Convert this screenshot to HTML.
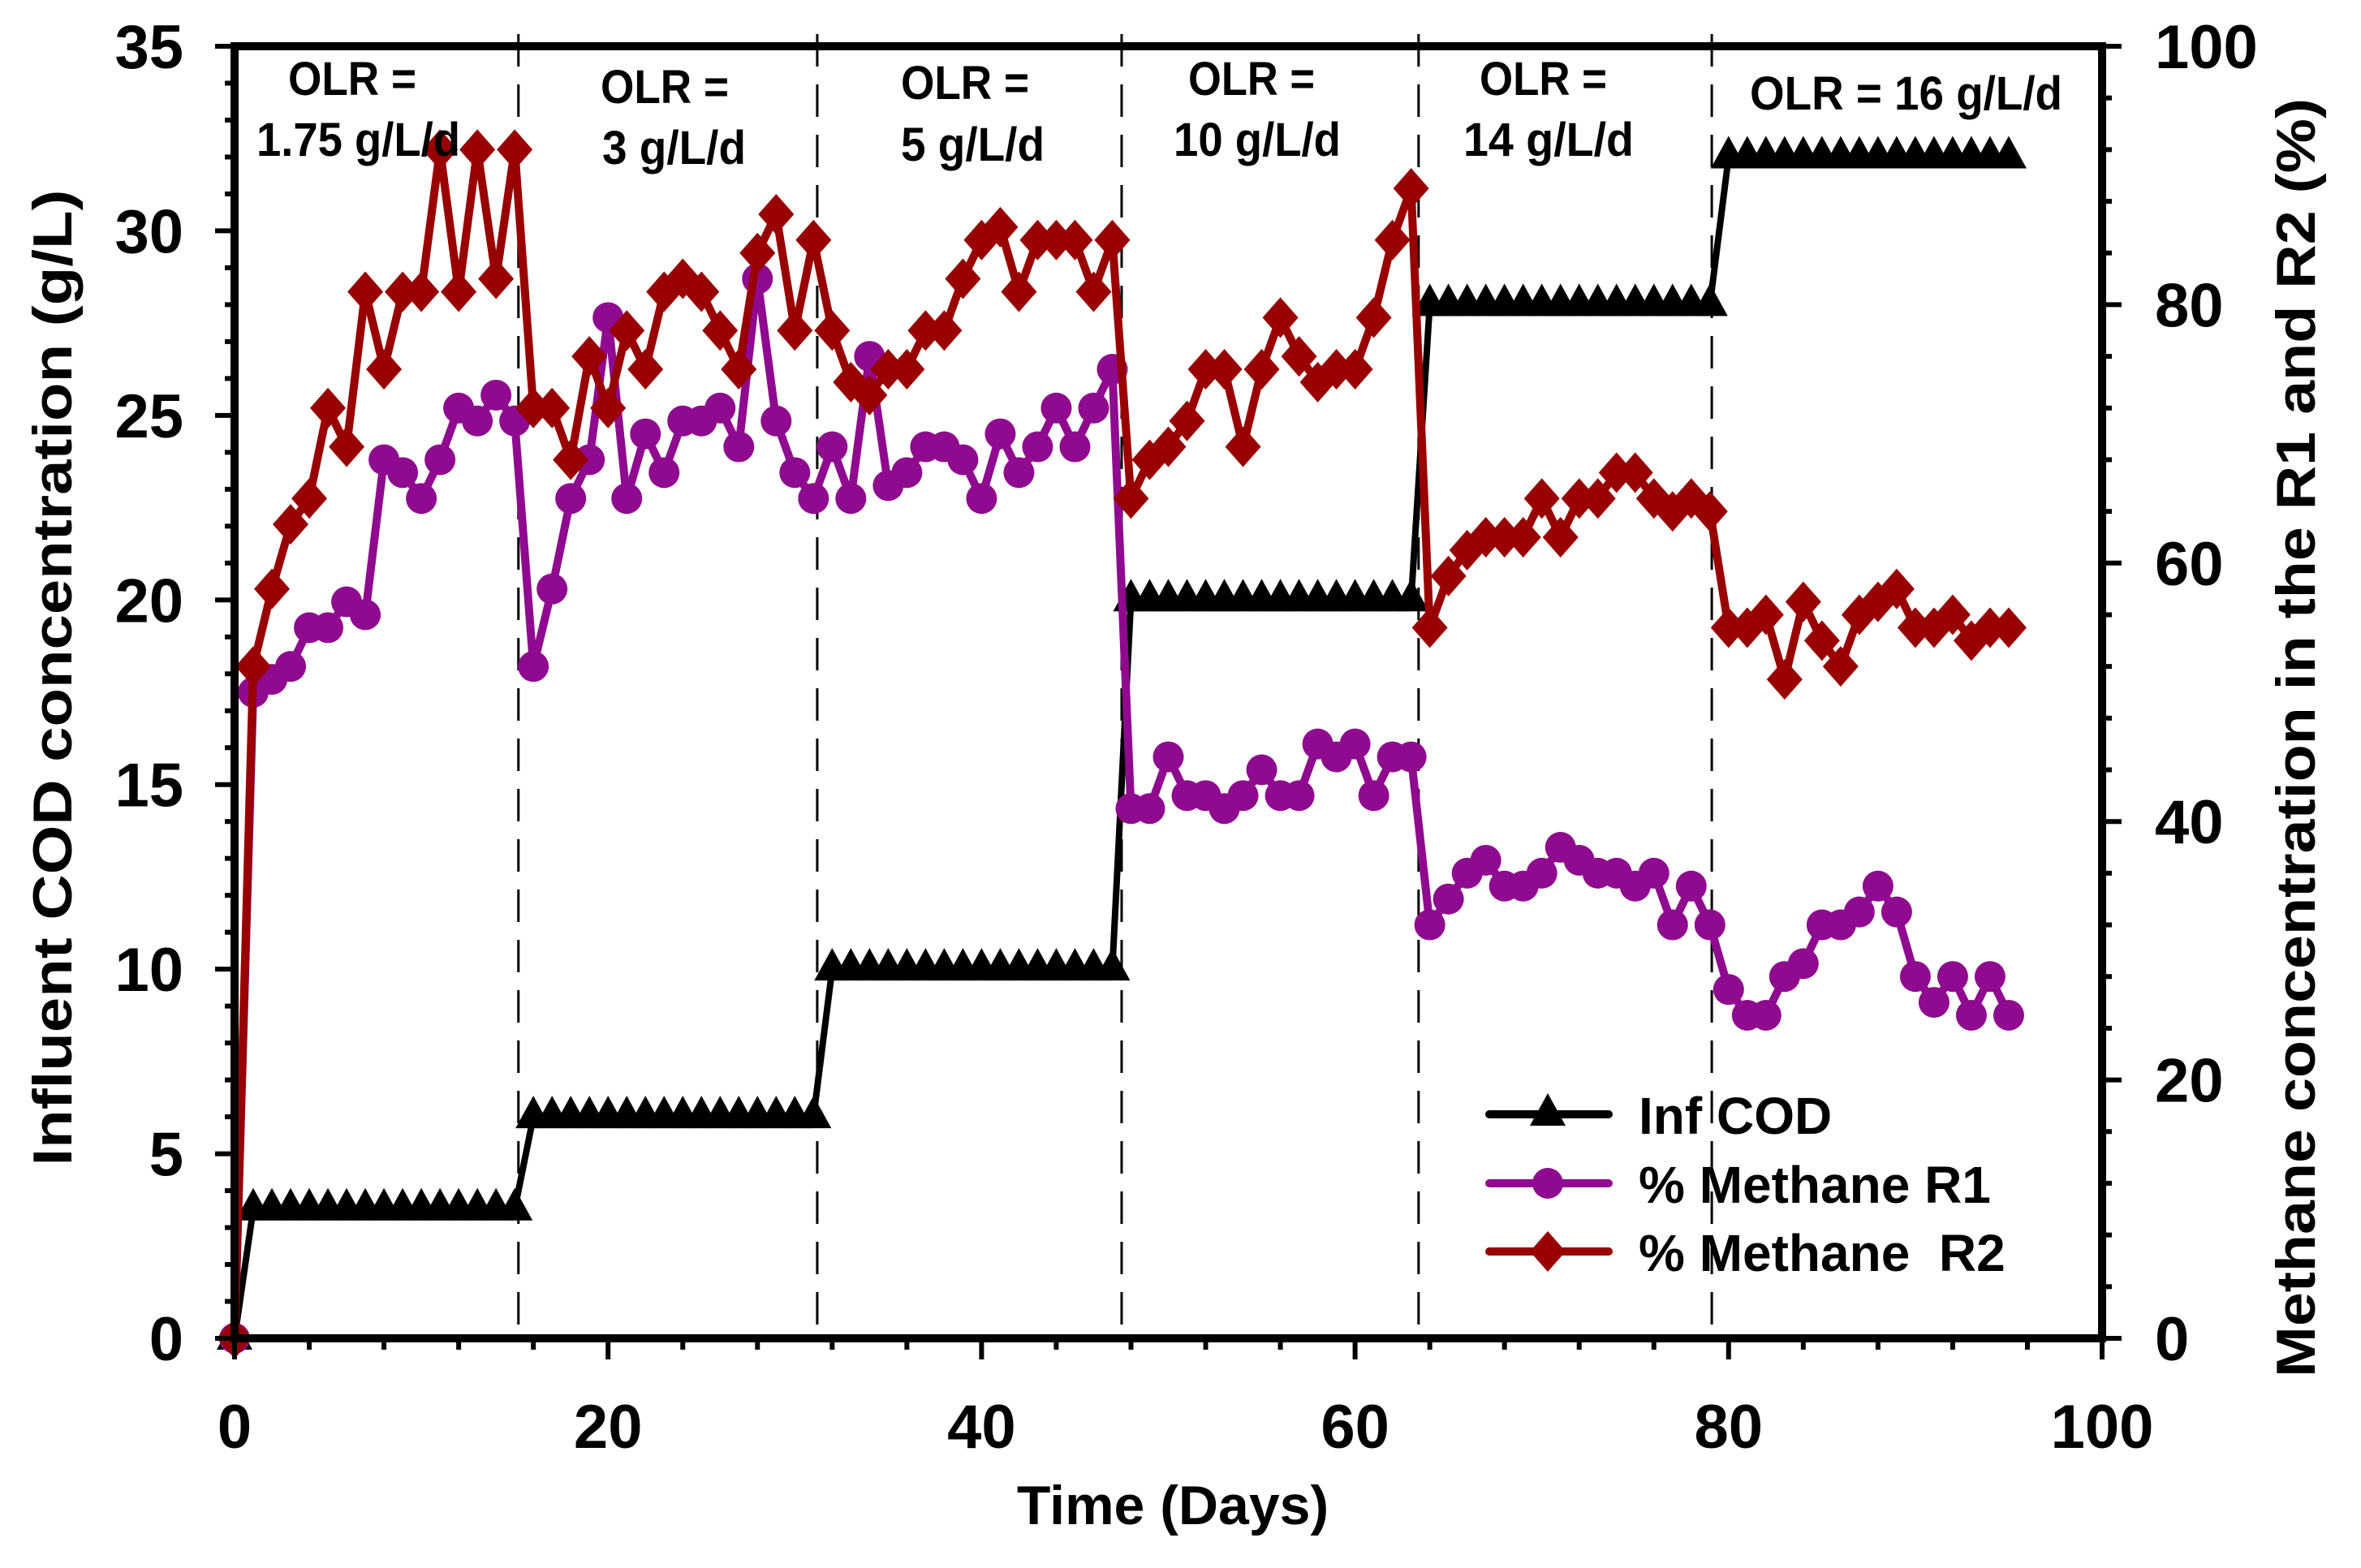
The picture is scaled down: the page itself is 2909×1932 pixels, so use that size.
<!DOCTYPE html>
<html><head><meta charset="utf-8"><style>
html,body{margin:0;padding:0;background:#fff}
svg{display:block}
text{font-family:"Liberation Sans",Arial,sans-serif;font-weight:bold;fill:#000}
#legend text{white-space:pre}
</style></head><body>
<svg id="chart" width="2909" height="1932" viewBox="0 0 2909 1932" xmlns="http://www.w3.org/2000/svg">
<g id="grid"></g>
<g id="series"></g>
<g id="axes"></g>
<g id="labels">
<text x="355" y="117" font-size="58" textLength="158" lengthAdjust="spacingAndGlyphs">OLR =</text>
<text x="316" y="192" font-size="58" textLength="251" lengthAdjust="spacingAndGlyphs">1.75 g/L/d</text>
<text x="740" y="127" font-size="58" textLength="158" lengthAdjust="spacingAndGlyphs">OLR =</text>
<text x="742" y="202" font-size="58" textLength="177" lengthAdjust="spacingAndGlyphs">3 g/L/d</text>
<text x="1110" y="122" font-size="58" textLength="158" lengthAdjust="spacingAndGlyphs">OLR =</text>
<text x="1110" y="198" font-size="58" textLength="177" lengthAdjust="spacingAndGlyphs">5 g/L/d</text>
<text x="1464" y="117" font-size="58" textLength="156" lengthAdjust="spacingAndGlyphs">OLR =</text>
<text x="1446" y="192" font-size="58" textLength="206" lengthAdjust="spacingAndGlyphs">10 g/L/d</text>
<text x="1823" y="117" font-size="58" textLength="157" lengthAdjust="spacingAndGlyphs">OLR =</text>
<text x="1803" y="192" font-size="58" textLength="210" lengthAdjust="spacingAndGlyphs">14 g/L/d</text>
<text x="2156" y="135" font-size="58" textLength="385" lengthAdjust="spacingAndGlyphs">OLR = 16 g/L/d</text>
</g>
<g id="titles">
<text x="1445" y="1878" font-size="68" text-anchor="middle">Time (Days)</text>
<text transform="translate(88,835) rotate(-90)" font-size="68" text-anchor="middle" textLength="1203" lengthAdjust="spacingAndGlyphs">Influent COD concentration (g/L)</text>
<text transform="translate(2852,909) rotate(-90)" font-size="68" text-anchor="middle" textLength="1576" lengthAdjust="spacingAndGlyphs">Methane concentration in the R1 and R2 (%)</text>
</g>
<g id="legend"></g>
</svg>
<script>
const days = [];
for (let d = 0; d <= 95; d++) days.push(d);
const codValues = [0,3.5,3.5,3.5,3.5,3.5,3.5,3.5,3.5,3.5,3.5,3.5,3.5,3.5,3.5,3.5,
6,6,6,6,6,6,6,6,6,6,6,6,6,6,6,6,
10,10,10,10,10,10,10,10,10,10,10,10,10,10,10,10,
20,20,20,20,20,20,20,20,20,20,20,20,20,20,20,20,
28,28,28,28,28,28,28,28,28,28,28,28,28,28,28,28,
32,32,32,32,32,32,32,32,32,32,32,32,32,32,32,32];
const r1Values = [0,50,51,52,55,55,57,56,68,67,65,68,72,71,73,71,
52,58,65,68,79,65,70,67,71,71,72,69,82,71,67,65,
69,65,76,66,67,69,69,68,65,70,67,69,72,69,72,75,
41,41,45,42,42,41,42,44,42,42,46,45,46,42,45,45,
32,34,36,37,35,35,36,38,37,36,36,35,36,32,35,32,
27,25,25,28,29,32,32,33,35,33,28,26,28,25,28,25];
const r2Values = [0,52,58,63,65,72,69,81,75,81,81,92,81,92,82,92,
72,72,68,76,72,78,75,81,82,81,78,75,84,87,78,85,
78,74,73,75,75,78,78,82,85,86,81,85,85,85,81,85,
65,68,69,71,75,75,69,75,79,76,74,75,75,79,85,89,
55,59,61,62,62,62,65,62,65,65,67,67,65,64,65,64,
55,55,56,51,57,54,52,56,57,58,55,55,56,54,55,55];
const phaseBoundaries = [15.2,31.2,47.5,63.4,79.1];
const xTicks = [0,20,40,60,80,100];
const yLeftTicks = [0,5,10,15,20,25,30,35];
const yRightTicks = [0,20,40,60,80,100];

const NS = "http://www.w3.org/2000/svg";
const L = 289, R = 2590, T = 57, B = 1649;
const xs = d => L + (d / 100) * (R - L);
const yl = v => B - (v / 35) * (B - T);
const yr = v => B - (v / 100) * (B - T);
function mk(tag, attrs, parent) {
  const e = document.createElementNS(NS, tag);
  for (const k in attrs) e.setAttribute(k, attrs[k]);
  parent.appendChild(e);
  return e;
}
const grid = document.getElementById('grid');
const series = document.getElementById('series');
const axes = document.getElementById('axes');
const legend = document.getElementById('legend');

phaseBoundaries.forEach(b => {
  const ln = mk('line', {x1: xs(b), x2: xs(b), y1: 42, y2: B, stroke: '#000', 'stroke-width': 3, 'stroke-dasharray': '40 22'}, grid);
  
  
});

function drawSeries(vals, ymap, color, lw, marker, name) {
  const g = mk('g', {}, series);
  
  
  const pts = vals.map((v, i) => xs(days[i]) + ',' + ymap(v)).join(' ');
  const pl = mk('polyline', {points: pts, fill: 'none', stroke: color, 'stroke-width': lw, 'stroke-linejoin': 'round'}, g);
  
  
  vals.forEach((v, i) => {
    const m = drawMarker(marker, xs(days[i]), ymap(v), color, g);
    
    
  });
}
function drawMarker(type, x, y, color, parent) {
  if (type === 'tri') return mk('polygon', {points: `${x},${y-26} ${x-22},${y+14} ${x+22},${y+14}`, fill: color}, parent);
  if (type === 'circ') return mk('ellipse', {cx: x, cy: y, rx: 19, ry: 19, fill: color}, parent);
  return mk('polygon', {points: `${x},${y-25} ${x+22},${y} ${x},${y+25} ${x-22},${y}`, fill: color}, parent);
}
drawSeries(codValues, yl, '#000', 8, 'tri', 'series-inf-cod');
drawSeries(r1Values, yr, '#8f0a8f', 10, 'circ', 'series-methane-r1');
drawSeries(r2Values, yr, '#990000', 10, 'dia', 'series-methane-r2');

const fr = mk('rect', {x: L, y: T, width: R - L, height: B - T, fill: 'none', stroke: '#000', 'stroke-width': 10}, axes);


for (let v = 0; v <= 35; v++) {
  const major = v % 5 === 0;
  const t = mk('line', {x1: L - (major ? 24 : 12), x2: L, y1: yl(v), y2: yl(v), stroke: '#000', 'stroke-width': 6}, axes);
  
  
}
yLeftTicks.forEach(v => {
  const t = mk('text', {x: 226, y: yl(v) + 27, 'font-size': 76, 'text-anchor': 'end'}, axes);
  t.textContent = v;
  
  
});
for (let v = 0; v <= 100; v += 4) {
  const major = v % 20 === 0;
  const t = mk('line', {x1: R, x2: R + (major ? 24 : 12), y1: yr(v), y2: yr(v), stroke: '#000', 'stroke-width': 6}, axes);
  
  
}
yRightTicks.forEach(v => {
  const t = mk('text', {x: 2655, y: yr(v) + 27, 'font-size': 76}, axes);
  t.textContent = v;
  
  
});
for (let d = 0; d <= 100; d += 4) {
  const major = d % 20 === 0;
  const t = mk('line', {x1: xs(d), x2: xs(d), y1: B, y2: B + (major ? 26 : 14), stroke: '#000', 'stroke-width': 6}, axes);
  
  
}
xTicks.forEach(d => {
  const t = mk('text', {x: xs(d), y: 1784, 'font-size': 76, 'text-anchor': 'middle'}, axes);
  t.textContent = d;
  
  
});

const legItems = [
  {label: 'Inf COD', color: '#000', m: 'tri', y: 1373},
  {label: '% Methane R1', color: '#8f0a8f', m: 'circ', y: 1458},
  {label: '% Methane  R2', color: '#990000', m: 'dia', y: 1542}
];
legItems.forEach(it => {
  const g = mk('g', {}, legend);
  
  
  mk('line', {x1: 1835, x2: 1982, y1: it.y, y2: it.y, stroke: it.color, 'stroke-width': 10, 'stroke-linecap': 'round'}, g);
  drawMarker(it.m, 1907, it.y, it.color, g);
  const t = mk('text', {x: 2019, y: it.y + 24, 'font-size': 64}, g);
  t.textContent = it.label;
});
</script>
</body></html>
